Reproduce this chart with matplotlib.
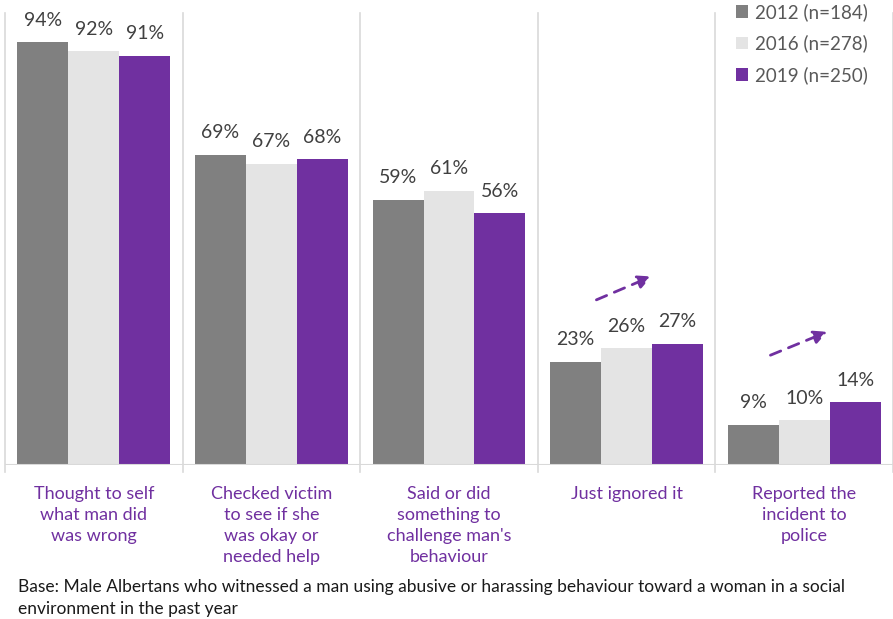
import matplotlib.pyplot as plt
import numpy as np

categories = [
    "Thought to self\nwhat man did\nwas wrong",
    "Checked victim\nto see if she\nwas okay or\nneeded help",
    "Said or did\nsomething to\nchallenge man's\nbehaviour",
    "Just ignored it",
    "Reported the\nincident to\npolice",
]
series_names = ["2012 (n=184)", "2016 (n=278)", "2019 (n=250)"]
v2012 = [94, 69, 59, 23, 9]
v2016 = [92, 67, 61, 26, 10]
v2019 = [91, 68, 56, 27, 14]
colors = ["#808080", "#e4e4e4", "#7030a0"]

# trend arrows (start x, start y, end x, end y) in data units
trend_arrows = [
    (2.83, 36.7, 3.14, 41.9),
    (3.81, 24.4, 4.13, 29.6),
]

plt.rcParams['font.family'] = ['Lato', 'DejaVu Sans']

fig = plt.figure(figsize=(8.93, 6.19), dpi=100)
ax = fig.add_axes([5 / 893, (619 - 465) / 619, 888 / 893, 452 / 619])

n = len(categories)
x = np.arange(n)
bw = 0.287
ymax = 452 / 4.5
ax.set_xlim(-0.5, n - 0.5)
ax.set_ylim(0, ymax)

for i, (vals, col, name) in enumerate(zip([v2012, v2016, v2019], colors, series_names)):
    pos = x + (i - 1) * bw
    ax.bar(pos, vals, width=bw, color=col, label=name, zorder=3)
    for p, v in zip(pos, vals):
        ax.annotate(f"{v}%", (p, v), xytext=(0, 9.5), textcoords="offset points",
                    ha="center", va="bottom", fontsize=14, color="#404040",
                    annotation_clip=False)

# category separators and baseline
for b in np.arange(-0.5, n + 0.5, 1.0):
    ax.plot([b, b], [-1.5, ymax], color="#d9d9d9", lw=1.2, clip_on=False, zorder=1)
ax.axhline(0, color="#d9d9d9", lw=1.5, zorder=4)

for s in ax.spines.values():
    s.set_visible(False)
ax.set_xticks([])
ax.set_yticks([])

for xi, lab in zip(x, categories):
    ax.annotate(lab, (xi, 0), xytext=(0, -15), textcoords="offset points",
                ha="center", va="top", fontsize=13, color="#7030a0",
                linespacing=1.4)

for x0, y0, x1, y1 in trend_arrows:
    ax.annotate("", xy=(x1, y1), xytext=(x0, y0),
                arrowprops=dict(arrowstyle="-|>,head_length=0.8,head_width=0.4",
                                color="#7030a0", lw=2, linestyle=(0, (4, 3)),
                                shrinkA=0, shrinkB=0))

leg = ax.legend(loc="upper left", bbox_to_anchor=(718 / 888, 1.0 + 23 / 452),
                frameon=True, facecolor="white", edgecolor="none", framealpha=1,
                fontsize=13.5, handlelength=0.65, handleheight=0.65, handletextpad=0.35,
                labelspacing=0.72, borderpad=0.2)
for t in leg.get_texts():
    t.set_color("#595959")

fig.text(18 / 893, 1 - 587 / 619,
         "Base: Male Albertans who witnessed a man using abusive or harassing behaviour toward a woman in a social",
         fontsize=12.5, color="#1a1a1a", va="center", ha="left")
fig.text(18 / 893, 1 - 609 / 619, "environment in the past year",
         fontsize=12.5, color="#1a1a1a", va="center", ha="left")

fig.savefig("out.png", dpi=100)
